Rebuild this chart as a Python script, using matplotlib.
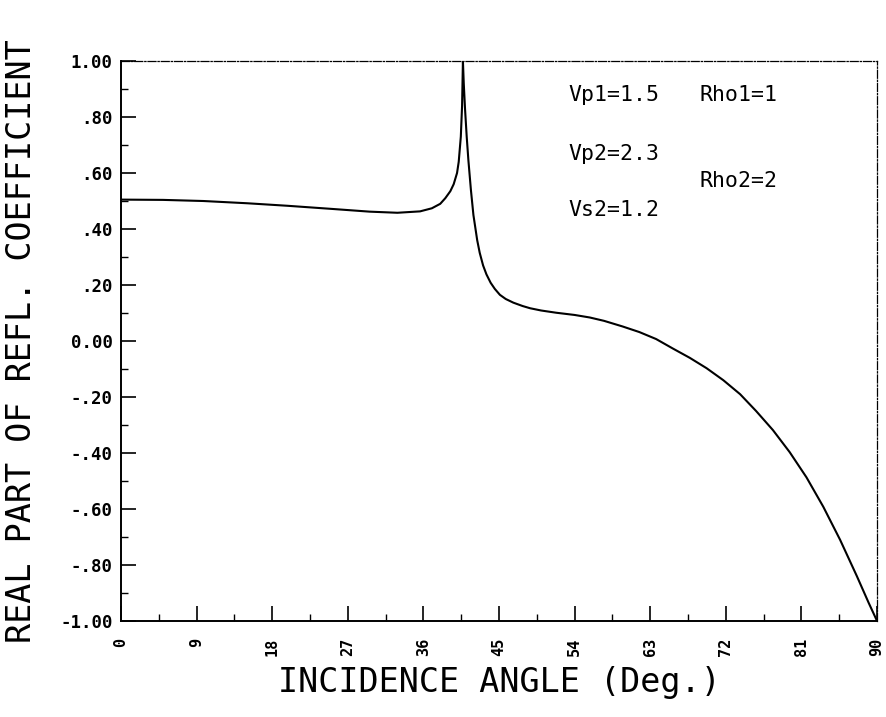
"""Real part of reflection coefficient vs incidence angle."""
import matplotlib
matplotlib.use("Agg")
import matplotlib.pyplot as plt
from matplotlib.ticker import MultipleLocator

# values
angle = [0, 5, 9.8, 15, 19.8, 25, 29.6, 32.9, 35.6, 37.0, 38.0, 38.6, 39.2,
         39.6, 40.0, 40.2, 40.45, 40.6, 40.7, 40.8, 40.95, 41.15, 41.35,
         41.65, 41.95, 42.4, 42.7, 43.1, 43.5, 44.0, 44.5, 45.1, 45.8, 46.7,
         47.8, 48.7, 50.0, 51.8, 54.0, 55.8, 57.5, 59.7, 61.7, 63.7, 65.7,
         67.7, 69.7, 71.7, 73.7, 75.6, 77.6, 79.6, 81.6, 83.6, 85.6, 87.6,
         89.0, 90]
refl = [0.505, 0.504, 0.500, 0.492, 0.483, 0.472, 0.462, 0.458, 0.463, 0.474,
        0.490, 0.510, 0.535, 0.560, 0.600, 0.640, 0.730, 0.840, 1.000, 0.920,
        0.830, 0.730, 0.646, 0.540, 0.450, 0.360, 0.315, 0.270, 0.238, 0.208,
        0.186, 0.165, 0.150, 0.137, 0.125, 0.117, 0.109, 0.101, 0.093, 0.084,
        0.072, 0.052, 0.032, 0.007, -0.027, -0.060, -0.097, -0.140, -0.190,
        -0.250, -0.318, -0.397, -0.487, -0.592, -0.710, -0.840, -0.935, -1.00]

yticks = [1.0, 0.8, 0.6, 0.4, 0.2, 0.0, -0.2, -0.4, -0.6, -0.8, -1.0]
ytick_labels = ["1.00", ".80", ".60", ".40", ".20", "0.00",
                "-.20", "-.40", "-.60", "-.80", "-1.00"]
xticks = [0, 9, 18, 27, 36, 45, 54, 63, 72, 81, 90]

params = [("Vp1=1.5", 53.2, 0.879), ("Rho1=1", 68.9, 0.879),
          ("Vp2=2.3", 53.2, 0.668), ("Rho2=2", 68.9, 0.571),
          ("Vs2=1.2", 53.2, 0.468)]

mono = ["DejaVu Sans Mono"]

fig = plt.figure(figsize=(8.86, 7.17), dpi=100)
ax = fig.add_axes([0.1366, 0.1339, 0.8533, 0.781])

ax.plot(angle, refl, color="black", lw=1.5)

ax.set_xlim(0, 90)
ax.set_ylim(-1, 1)

ax.set_xticks(xticks)
ax.set_xticklabels([str(v) for v in xticks], rotation=90, family=mono,
                   fontsize=11, fontweight="bold")
ax.xaxis.set_minor_locator(MultipleLocator(4.5))
ax.set_yticks(yticks)
ax.set_yticklabels(ytick_labels, family=mono, fontsize=12.5,
                   fontweight="bold")
ax.yaxis.set_minor_locator(MultipleLocator(0.1))

ax.tick_params(which="major", direction="in", length=10.5, width=1.2)
ax.tick_params(which="minor", direction="in", length=5, width=1.0)
ax.tick_params(axis="y", which="major", pad=6)
ax.tick_params(axis="x", which="major", pad=12)

for side in ("left", "bottom"):
    ax.spines[side].set_linewidth(1.4)
for side in ("top", "right"):
    ax.spines[side].set_linestyle("-.")
    ax.spines[side].set_linewidth(0.9)

for txt, x, y in params:
    ax.text(x, y, txt, family=mono, fontsize=15.5, va="center", ha="left")

ax.set_xlabel("INCIDENCE ANGLE (Deg.)", family=mono, fontsize=24, labelpad=7)
ax.set_ylabel("REAL PART OF REFL. COEFFICIENT", family=mono, fontsize=24,
              labelpad=16)

fig.savefig("out.png", dpi=100)
plt.close(fig)
